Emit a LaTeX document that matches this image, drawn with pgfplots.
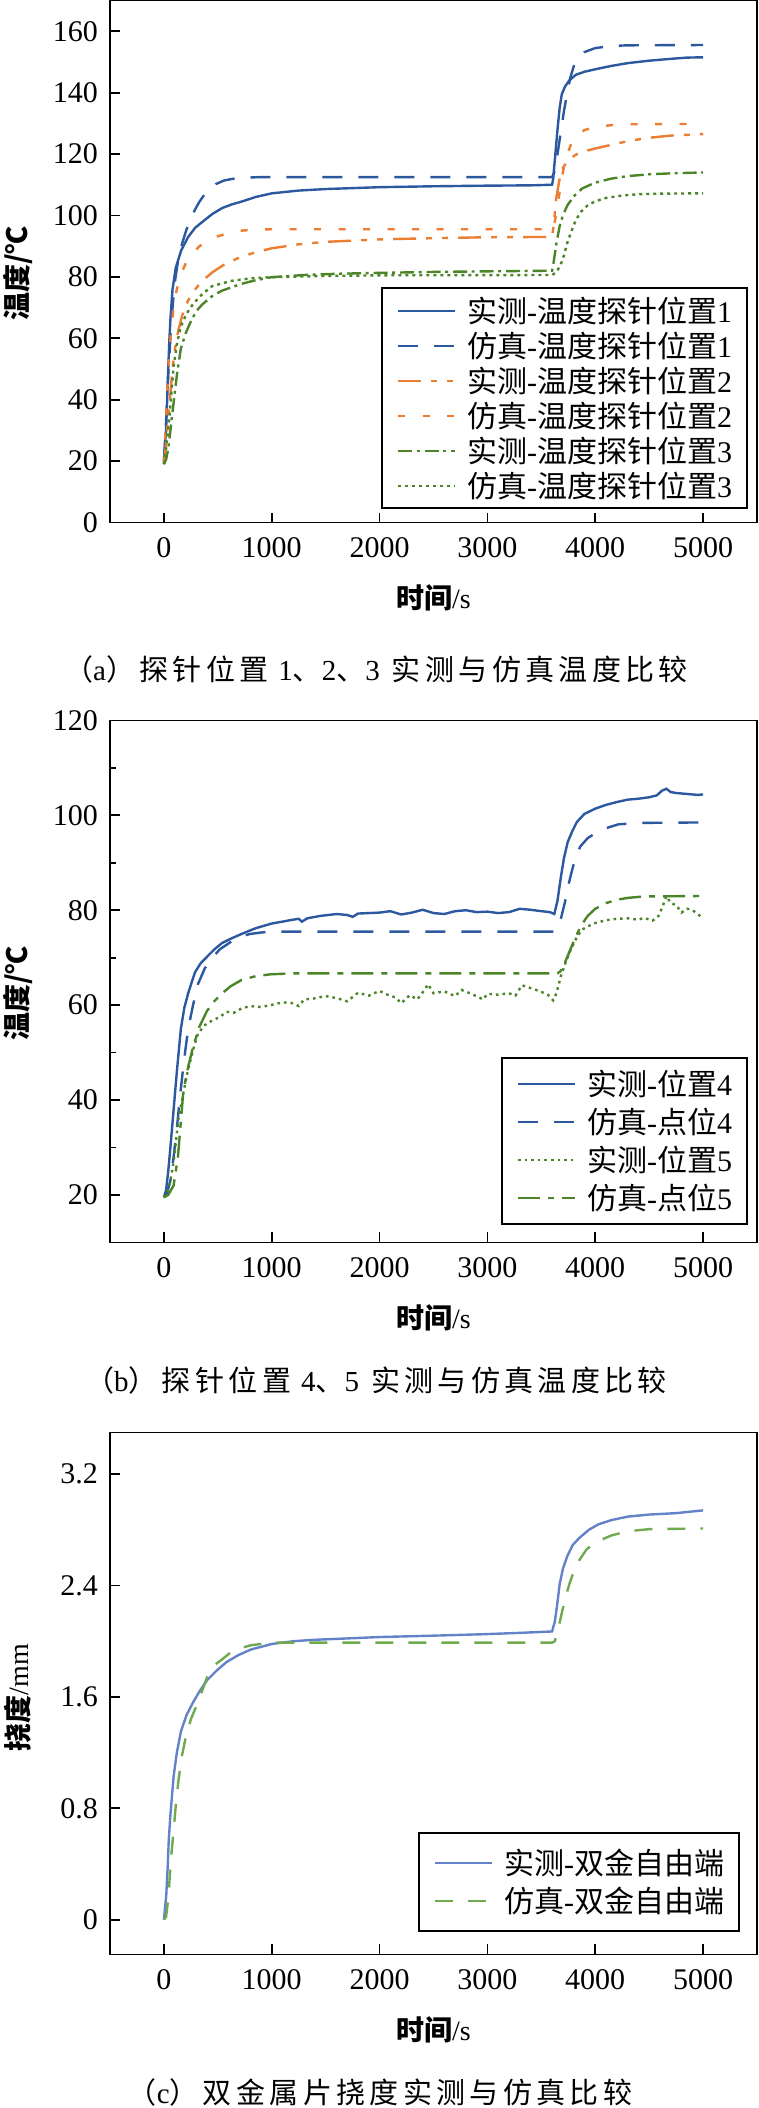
\documentclass[border=0pt]{standalone}
\usepackage{fontspec}
\setmainfont{Liberation Serif}
\newfontfamily\cjk{Noto Sans CJK SC}
\newfontfamily\capcjk{Noto Sans CJK SC}[LetterSpace=15]
\newfontfamily\capser{Liberation Serif}[LetterSpace=15]
\usepackage{pgfplots}
\pgfplotsset{compat=1.18}

\definecolor{cblue}{RGB}{44,88,160}
\definecolor{corange}{RGB}{237,125,49}
\definecolor{cgreen}{RGB}{76,132,40}
\definecolor{cblueC}{RGB}{100,130,200}
\definecolor{cgreenC}{RGB}{112,170,80}

\pgfplotsset{
  myaxis/.style={
    scale only axis, width=323.5pt, height=261pt,
    anchor=south west,
    xmin=-500, xmax=5500, xtick={0,1000,2000,3000,4000,5000},
    xticklabels={0,1000,2000,3000,4000,5000},
    tick label style={font=\fontsize{15}{18}\selectfont\rmfamily},
    xticklabel style={yshift=-4pt},
    yticklabel style={xshift=-2.5pt},
    xtick pos=bottom, ytick pos=left,
    tick align=inside,
    major tick length=5pt, minor tick length=3pt,
    axis line style={line width=0.9pt},
    every tick/.style={black, line width=0.9pt},
    label style={font=\fontsize{14}{16}\selectfont},
    xlabel style={at={(axis description cs:0.5,-0.1453)}, anchor=center},
    legend cell align=left,
    legend image code/.code={\draw[##1] (0pt,0pt) -- (28.5pt,0pt);},
    legend style={draw=black, line width=0.8pt, fill=white,
      font=\fontsize{15}{18}\selectfont, inner xsep=7.5pt,
      column sep=5.5pt, row sep=0pt, anchor=south east},
  },
  lw/.style={line width=1.2pt},
}

\begin{document}
\begin{tikzpicture}
\useasboundingbox (0,0) rectangle (379.5pt,-1054pt);

% ---------------- (a) ----------------
\begin{axis}[myaxis, at={(55pt,-261.25pt)},
  ymin=0, ymax=170, ytick={0,20,40,60,80,100,120,140,160},
  yticklabels={0,20,40,60,80,100,120,140,160},
  xlabel={{\cjk\bfseries 时间}/s},
  ylabel={{\cjk\bfseries 温度/℃}},
  ylabel style={at={(axis description cs:-0.1422,0.477)}, anchor=center},
  legend style={at={(0.9861,0.0258)}, inner ysep=2.5pt,
    nodes={inner sep=0pt, text height=14.45pt, text depth=3.05pt}},
]
\addplot[cblue, lw] coordinates {
(0,20)(10,25)(20,30)(30,40)(40,50)(50,59)(60,66)(80,76)(110,83)(160,88.6)(225,93)(290,96)(360,98)(450,100.5)(540,102.4)(630,103.6)(720,104.5)(850,106)(1000,107.2)(1250,108.1)(1500,108.6)(2000,109.2)(2500,109.5)(3000,109.7)(3400,109.8)(3600,110)(3610,112)(3630,120)(3650,128)(3670,135)(3690,139.5)(3720,142)(3760,144)(3820,145.8)(3900,146.8)(4000,147.6)(4150,148.7)(4300,149.6)(4500,150.4)(4700,151)(4850,151.4)(5000,151.5)};
\addlegendentry{{\cjk 实测}-{\cjk 温度探针位置}1}
\addplot[cblue, lw, dash pattern=on 10pt off 8pt] coordinates {
(0,20)(20,33)(40,48)(60,60)(80,70)(100,78)(130,85)(170,91)(210,95.5)(250,99)(290,102)(330,104.5)(400,108)(480,110.2)(560,111.4)(650,112)(760,112.3)(900,112.5)(3600,112.5)(3620,114)(3650,120)(3680,127)(3710,134)(3740,140)(3770,145)(3800,148.5)(3850,151.5)(3900,153.2)(4000,154.5)(4150,155.2)(4300,155.4)(5000,155.5)};
\addlegendentry{{\cjk 仿真}-{\cjk 温度探针位置}1}
\addplot[corange, lw, dash pattern=on 11.5pt off 5pt on 3pt off 5pt on 3pt off 5pt] coordinates {
(0,19)(20,26)(40,34)(60,42)(80,50)(100,56)(130,62)(170,67.5)(220,72)(280,75.5)(350,78.5)(450,81.5)(550,83.8)(700,86.3)(850,88)(1000,89.3)(1250,90.6)(1500,91.4)(2000,92.2)(2500,92.6)(3000,92.9)(3600,93)(3615,97)(3640,106)(3670,112)(3700,115.5)(3750,118)(3820,119.8)(3900,120.9)(4000,121.8)(4150,123)(4300,124.2)(4500,125.3)(4700,126)(5000,126.5)};
\addlegendentry{{\cjk 实测}-{\cjk 温度探针位置}2}
\addplot[corange, lw, dash pattern=on 3.5pt off 8.75pt] coordinates {
(0,19)(15,30)(30,42)(50,55)(70,64)(90,70)(120,76)(160,81)(210,85)(270,87.8)(330,90)(400,91.6)(500,93.2)(600,94.3)(700,95)(850,95.4)(1000,95.5)(3600,95.5)(3620,97)(3650,103)(3680,110)(3710,116)(3740,120)(3780,123.5)(3830,126)(3900,127.8)(4000,128.8)(4150,129.4)(4300,129.7)(5000,129.8)};
\addlegendentry{{\cjk 仿真}-{\cjk 温度探针位置}2}
\addplot[cgreen, lw, dash pattern=on 7pt off 2.25pt on 1.5pt off 2.5pt] coordinates {
(0,19)(20,20.5)(40,24)(60,30)(90,39)(120,48)(157,56.6)(200,61.5)(250,65.5)(300,68.8)(358,71.1)(450,73.8)(538,75.5)(717,77.7)(850,78.9)(1000,79.9)(1300,80.6)(1600,81)(2000,81.3)(2500,81.6)(3000,81.8)(3600,82)(3615,85)(3640,91)(3670,96.5)(3700,100)(3740,103.2)(3800,106.2)(3880,108.8)(4000,110.7)(4150,112)(4300,112.8)(4500,113.4)(4700,113.7)(5000,114)};
\addlegendentry{{\cjk 实测}-{\cjk 温度探针位置}3}
\addplot[cgreen, lw, dash pattern=on 1.5pt off 2pt] coordinates {
(0,19)(20,24)(40,30)(60,38)(90,50.8)(120,58)(157,63.9)(210,68)(269,71.1)(350,74.2)(448,77)(627,78.7)(800,79.5)(1000,79.9)(1500,80.3)(2000,80.5)(3600,80.6)(3640,81.5)(3680,84)(3710,87)(3740,91)(3780,95)(3820,98.5)(3870,101.3)(3930,103.3)(4000,104.6)(4100,105.7)(4250,106.5)(4400,106.9)(4600,107.1)(5000,107.2)};
\addlegendentry{{\cjk 仿真}-{\cjk 温度探针位置}3}
\end{axis}
\node at (188pt,-334.5pt) {\fontsize{14.5}{17}\selectfont{\capcjk （}{\capser a}{\capcjk ）探针位置}\hspace{5pt}{\capser 1}{\capcjk 、}{\capser 2}{\capcjk 、}{\capser 3}\hspace{6pt}{\capcjk 实测与仿真温度比较}};

% ---------------- (b) ----------------
\begin{axis}[myaxis, at={(55pt,-621.2pt)},
  ymin=10, ymax=120, ytick={20,40,60,80,100,120}, minor y tick num=1,
  yticklabels={20,40,60,80,100,120},
  xlabel={{\cjk\bfseries 时间}/s},
  ylabel={{\cjk\bfseries 温度/℃}},
  ylabel style={at={(axis description cs:-0.1422,0.477)}, anchor=center},
  legend style={at={(0.9861,0.0333)}, inner ysep=3.5pt,
    nodes={inner sep=0pt, text height=15.2pt, text depth=3.8pt}},
]
\addplot[cblue, lw] coordinates {
(0,19.5)(20,21)(40,25)(60,30)(90,38)(120,46)(157,55)(190,59.5)(225,62.5)(260,65)(290,67)(340,68.8)(400,70.2)(470,71.8)(540,73.1)(620,74)(720,75)(850,76.2)(1000,77.2)(1100,77.6)(1170,77.9)(1250,78.2)(1280,77.6)(1330,78.3)(1450,78.8)(1600,79.2)(1700,79)(1750,78.6)(1800,79.3)(2000,79.5)(2100,79.8)(2200,79.1)(2300,79.5)(2400,80.1)(2500,79.4)(2600,79.2)(2700,79.8)(2800,80)(2900,79.6)(3000,79.7)(3100,79.4)(3200,79.6)(3300,80.3)(3400,80.1)(3500,79.8)(3580,79.6)(3620,79.2)(3650,82)(3680,86.8)(3710,91)(3745,94.4)(3790,96.8)(3830,98.6)(3900,100.3)(4000,101.4)(4100,102.2)(4200,102.8)(4300,103.3)(4400,103.5)(4500,103.8)(4570,104.2)(4620,105.2)(4660,105.6)(4700,104.9)(4750,104.7)(4850,104.5)(4950,104.3)(5000,104.4)};
\addlegendentry{{\cjk 实测}-{\cjk 位置}4}
\addplot[cblue, lw, dash pattern=on 10pt off 8pt] coordinates {
(0,19.5)(30,20.5)(60,23)(90,28)(120,34)(150,41)(190,49)(225,55)(270,60)(315,64.4)(380,67.8)(450,70)(520,71.8)(580,72.7)(650,73.8)(720,74.5)(800,75)(900,75.3)(1000,75.5)(3630,75.5)(3660,76.5)(3690,79)(3720,81.8)(3750,85.2)(3780,88)(3810,90.5)(3860,93.4)(3930,95.2)(4000,96.2)(4100,97.3)(4215,98.1)(4400,98.4)(5000,98.5)};
\addlegendentry{{\cjk 仿真}-{\cjk 点位}4}
\addplot[cgreen, lw, dash pattern=on 1.3pt off 2pt] coordinates {
(0,19.5)(30,20.5)(60,23)(90,27)(135,36)(180,41.5)(225,46.5)(270,50.5)(315,54)(380,55.8)(450,56.8)(520,57.5)(580,58.6)(650,58.4)(720,59.3)(800,59.8)(900,59.6)(990,60)(1100,60.6)(1200,60.4)(1250,59.8)(1300,61.2)(1390,61.4)(1500,61.9)(1600,61.5)(1700,60.8)(1800,62.6)(1900,62)(2000,63)(2060,62.3)(2150,61.6)(2200,60.4)(2280,62.1)(2350,61.2)(2420,63.3)(2450,64.4)(2500,62.5)(2600,62.9)(2700,61.9)(2760,63.2)(2850,62.4)(2960,61.2)(3000,62.4)(3100,62.2)(3200,62.5)(3260,62)(3320,64.2)(3400,63.6)(3500,62.8)(3560,62.2)(3610,61)(3640,62.5)(3680,66)(3720,68.7)(3760,71)(3810,73.5)(3870,75.8)(3930,76.6)(4000,77.3)(4100,77.9)(4200,78.2)(4300,78.3)(4400,78)(4450,78.4)(4530,77.8)(4580,78.5)(4620,80.5)(4660,83)(4700,81.5)(4750,81.1)(4800,79.5)(4850,80.3)(4890,80.2)(4950,79.2)(5000,78.3)};
\addlegendentry{{\cjk 实测}-{\cjk 位置}5}
\addplot[cgreen, lw, dash pattern=on 11pt off 4pt on 3pt off 4pt] coordinates {
(0,19.5)(40,20)(90,22)(130,28)(180,41.8)(220,46.5)(270,51.2)(330,55.5)(400,58.8)(470,60.9)(540,62.5)(620,64)(720,65.3)(850,66.1)(990,66.5)(1200,66.7)(3650,66.7)(3680,67.2)(3710,68.5)(3760,71.2)(3810,74)(3870,76.8)(3930,78.8)(4000,80.3)(4100,81.5)(4200,82.2)(4300,82.6)(4450,82.9)(5000,83)};
\addlegendentry{{\cjk 仿真}-{\cjk 点位}5}
\end{axis}
\node at (188pt,-690pt) {\fontsize{14.5}{17}\selectfont{\capcjk （}{\capser b}{\capcjk ）探针位置}\hspace{5pt}{\capser 4}{\capcjk 、}{\capser 5}\hspace{6pt}{\capcjk 实测与仿真温度比较}};

% ---------------- (c) ----------------
\begin{axis}[myaxis, at={(55pt,-977.2pt)},
  ymin=-0.25, ymax=3.5, ytick={0,0.8,1.6,2.4,3.2}, yticklabels={0,0.8,1.6,2.4,3.2},
  xlabel={{\cjk\bfseries 时间}/s},
  ylabel={{\cjk\bfseries 挠度}/mm},
  ylabel style={at={(axis description cs:-0.1422,0.4915)}, anchor=center},
  legend style={at={(0.9737,0.0428)}, inner ysep=5.5pt,
    nodes={inner sep=0pt, text height=15.2pt, text depth=3.8pt}},
]
\addplot[cblueC, lw] coordinates {
(0,0)(10,0.08)(22,0.18)(35,0.38)(45,0.57)(60,0.75)(90,1.03)(120,1.2)(157,1.35)(210,1.47)(270,1.56)(330,1.64)(400,1.72)(490,1.79)(580,1.85)(690,1.9)(805,1.94)(1000,1.98)(1200,2.0)(1390,2.01)(1700,2.02)(2000,2.03)(2500,2.04)(2955,2.05)(3300,2.06)(3600,2.07)(3610,2.1)(3625,2.14)(3645,2.25)(3670,2.41)(3700,2.52)(3740,2.61)(3790,2.69)(3850,2.74)(3940,2.8)(4030,2.84)(4150,2.87)(4300,2.895)(4500,2.91)(4750,2.92)(5000,2.94)};
\addlegendentry{{\cjk 实测}-{\cjk 双金自由端}}
\addplot[cgreenC, lw, dash pattern=on 9pt off 7.5pt] coordinates {
(0,0)(20,0.02)(40,0.15)(67,0.45)(90,0.64)(110,0.82)(135,1.0)(165,1.17)(200,1.3)(250,1.44)(315,1.56)(400,1.74)(470,1.83)(540,1.87)(620,1.92)(715,1.95)(800,1.97)(895,1.98)(1000,1.99)(3600,1.99)(3625,2.0)(3660,2.1)(3695,2.22)(3730,2.33)(3760,2.41)(3800,2.5)(3850,2.58)(3920,2.66)(4000,2.71)(4150,2.76)(4300,2.79)(4500,2.805)(5000,2.81)};
\addlegendentry{{\cjk 仿真}-{\cjk 双金自由端}}
\end{axis}
\node at (190pt,-1046.25pt) {\fontsize{14.5}{17}\selectfont{\capcjk （}{\capser c}{\capcjk ）双金属片挠度实测与仿真比较}};
\end{tikzpicture}
\end{document}
